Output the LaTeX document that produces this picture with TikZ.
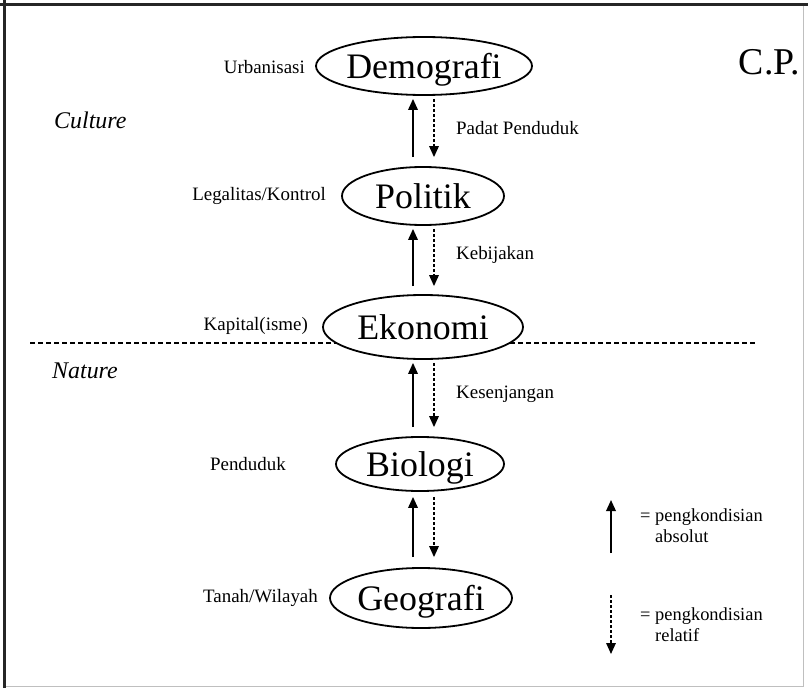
\documentclass[tikz,border=0pt]{standalone}
\usepackage{fontspec}
\setmainfont{Liberation Serif}
\usetikzlibrary{shapes.geometric,arrows.meta}
\begin{document}
\begin{tikzpicture}[x=1bp,y=-1bp,
  realm/.style={ellipse, draw, line width=1.8bp, fill=white, inner sep=0pt,
    inner xsep=-12bp, text depth=0pt, font=\fontsize{36}{40}\selectfont},
  lbl/.style={font=\fontsize{19}{21}\selectfont, inner sep=0pt},
  key/.style={font=\fontsize{18.5}{21}\selectfont, inner sep=0pt, anchor=west, align=left},
  sphere/.style={font=\fontsize{24}{26}\selectfont\itshape, inner sep=0pt, anchor=west},
  absolute/.style={line width=1.8bp, -{Triangle[length=11bp,width=9.5bp]}},
  relative/.style={line width=1.6bp, dash pattern=on 3bp off 2bp,
    -{Triangle[length=11bp,width=9.5bp]}},
  divider/.style={line width=1.8bp, dash pattern=on 5bp off 3bp},
]
\useasboundingbox (0,0) rectangle (808,688);

% frame
\draw[black!85, line width=3.5bp] (0,4.5) -- (808,4.5);
\draw[black!85, line width=3.5bp] (4.5,0) -- (4.5,688);
\draw[black!25, line width=1bp] (803,6) -- (803,686) -- (6,686);

% culture / nature divide
\coordinate (divL) at (30,343);
\coordinate (divR) at (758,343);
\draw[divider] (divL) -- (divR);

% the five realms
\node[realm, minimum width=216bp, minimum height=58bp] (demo) at (424,66) {Demografi};
\node[realm, minimum width=162bp, minimum height=58bp] (poli) at (423,196) {Politik};
\node[realm, minimum width=200bp, minimum height=64bp] (ekon) at (423,327) {Ekonomi};
\node[realm, minimum width=168bp, minimum height=54bp] (biol) at (420,464) {Biologi};
\node[realm, minimum width=182bp, minimum height=60bp] (geog) at (421,598) {Geografi};

% columns for the upward (absolute) and downward (relative) arrows
\coordinate (upcol) at (413,0);
\coordinate (downcol) at (434,0);

% conditioning arrows between realms
\draw[absolute, shorten <=9bp, shorten >=3bp] (upcol |- poli.north) -- (upcol |- demo.south);
\draw[relative, shorten <=3bp, shorten >=9bp] (downcol |- demo.south) -- (downcol |- poli.north);
\draw[absolute, shorten <=8bp, shorten >=3bp] (upcol |- ekon.north) -- (upcol |- poli.south);
\draw[relative, shorten <=3bp, shorten >=8bp] (downcol |- poli.south) -- (downcol |- ekon.north);
\draw[absolute, shorten <=9bp, shorten >=3bp] (upcol |- biol.north) -- (upcol |- ekon.south);
\draw[relative, shorten <=3bp, shorten >=9bp] (downcol |- ekon.south) -- (downcol |- biol.north);
\draw[absolute, shorten <=10bp, shorten >=5bp] (upcol |- geog.north) -- (upcol |- biol.south);
\draw[relative, shorten <=5bp, shorten >=10bp] (downcol |- biol.south) -- (downcol |- geog.north);

% side labels
\node[lbl, anchor=east] (urb) at (305,67) {Urbanisasi};
\node[lbl, anchor=west] (pad) at (456,128) {Padat Penduduk};
\node[lbl, anchor=east] (leg) at (326,196) {Legalitas/Kontrol};
\node[lbl, anchor=west] (keb) at (456,255) {Kebijakan};
\node[lbl, anchor=east] (kap) at (308,326) {Kapital(isme)};
\node[lbl, anchor=west] (kes) at (456,394) {Kesenjangan};
\node[lbl, anchor=east] (pen) at (286,464) {Penduduk};
\node[lbl, anchor=east] (tan) at (318,598) {Tanah/Wilayah};

\node[sphere] (cul) at (54,120) {Culture};
\node[sphere] (nat) at (52,371) {Nature};

\node[font=\fontsize{38}{40}\selectfont, inner sep=0pt, anchor=east] (cp) at (800,62) {C.P.};

% legend
\coordinate (absTail) at (611,553);
\coordinate (absHead) at (611,500);
\draw[absolute] (absTail) -- (absHead);
\node[key] (absTxt) at (640,526) {= pengkondisian\\\phantom{= }absolut};
\coordinate (relTail) at (611,595);
\coordinate (relHead) at (611,654);
\draw[relative] (relTail) -- (relHead);
\node[key] (relTxt) at (640,625) {= pengkondisian\\\phantom{= }relatif};
\end{tikzpicture}
\end{document}
